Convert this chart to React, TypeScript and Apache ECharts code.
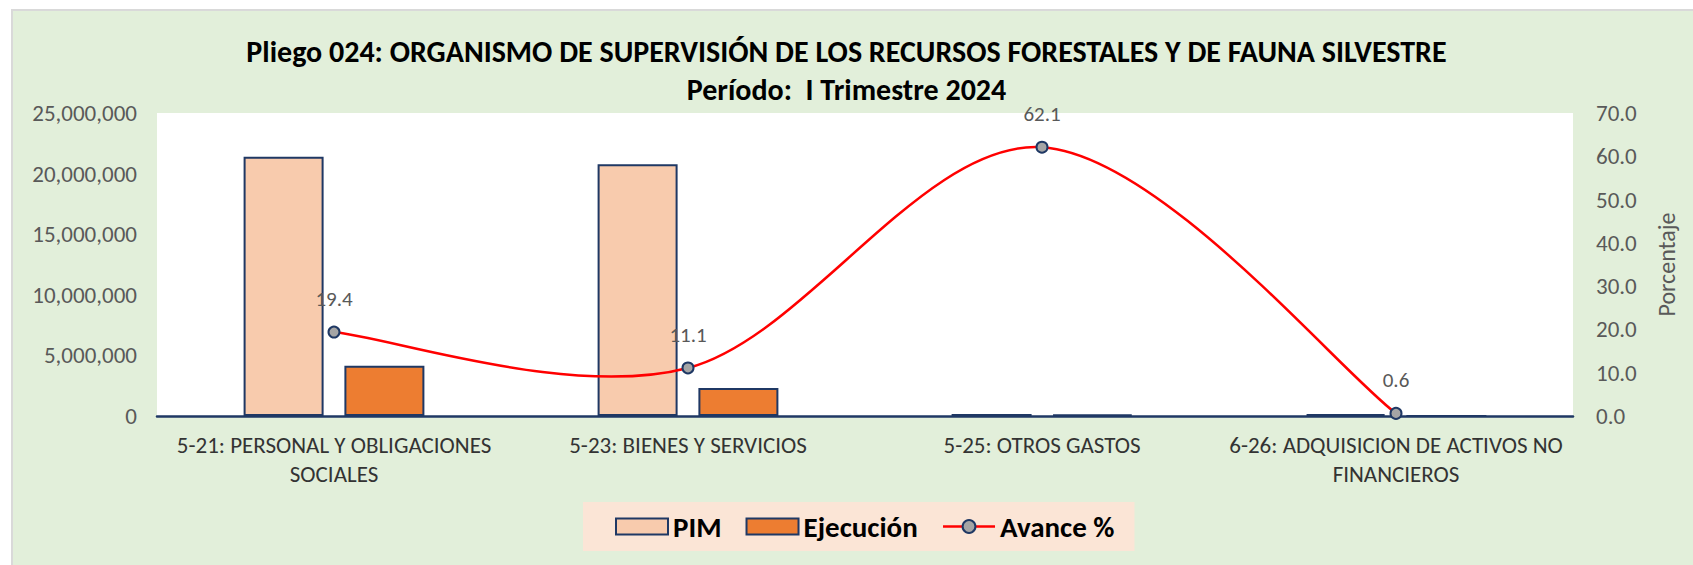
import React, { useEffect, useRef } from "react";
import * as echarts from "echarts";

const categories = [
  "5-21: PERSONAL Y OBLIGACIONES\nSOCIALES",
  "5-23: BIENES Y SERVICIOS",
  "5-25: OTROS GASTOS",
  "6-26: ADQUISICION DE ACTIVOS NO\nFINANCIEROS",
];
const pim = [21400000, 20770000, 170000, 160000];
const ejecucion = [4150000, 2310000, 106000, 1000];
const avance = [19.4, 11.1, 62.1, 0.6];

const titleLine1 = "Pliego 024: ORGANISMO DE SUPERVISIÓN DE LOS RECURSOS FORESTALES Y DE FAUNA SILVESTRE";
const titleLine2 = "Período:  I Trimestre 2024";

const FONT = "Carlito, Calibri, 'Liberation Sans Narrow', 'Open Sans', sans-serif";
const NAVY = "#1F3864";

export default function App() {
  const ref = useRef<HTMLDivElement>(null);
  useEffect(() => {
    document.body.style.margin = "0";
    const chart = echarts.init(ref.current!, null, { renderer: "svg" });
    chart.setOption({
      animation: false,
      backgroundColor: "#FFFFFF",
      textStyle: { fontFamily: FONT },
      graphic: [
        {
          type: "rect",
          z: -10,
          silent: true,
          shape: { x: 12, y: 10, width: 1700, height: 570 },
          style: { fill: "#E2EFDA", stroke: "#D9D9D9", lineWidth: 2 },
        },
      ],
      title: [
        {
          text: titleLine1,
          left: "center",
          top: 31,
          textStyle: { fontFamily: FONT, fontSize: 30, fontWeight: "bold", color: "#000" },
        },
        {
          text: titleLine2,
          left: "center",
          top: 69,
          textStyle: { fontFamily: FONT, fontSize: 30, fontWeight: "bold", color: "#000" },
        },
      ],
      legend: {
        bottom: 14,
        left: 583,
        backgroundColor: "#FBE5D6",
        padding: [10, 20, 10, 32],
        itemWidth: 52,
        itemHeight: 16,
        itemGap: 24,
        textStyle: { fontFamily: FONT, fontSize: 29, fontWeight: "bold", color: "#000" },
        data: [
          { name: "PIM", icon: "rect" },
          { name: "Ejecución", icon: "rect" },
          {
            name: "Avance %",
            lineStyle: { color: "#FF0000", width: 2.5, opacity: 1 },
          },
        ],
      },
      grid: {
        left: 157,
        right: 120,
        top: 113,
        bottom: 149,
        show: true,
        backgroundColor: "#FFFFFF",
        borderWidth: 0,
        containLabel: false,
      },
      xAxis: {
        type: "category",
        data: categories,
        axisLine: { lineStyle: { color: NAVY, width: 2.5 } },
        axisTick: { show: false },
        axisLabel: {
          fontFamily: FONT,
          fontSize: 23,
          color: "#333",
          lineHeight: 29,
          margin: 14,
          interval: 0,
        },
      },
      yAxis: [
        {
          type: "value",
          min: 0,
          max: 25000000,
          interval: 5000000,
          splitLine: { show: false },
          axisLine: { show: false },
          axisTick: { show: false },
          axisLabel: {
            fontFamily: FONT,
            fontSize: 23,
            color: "#595959",
            margin: 20,
            formatter: (v: number) => v.toLocaleString("en-US"),
          },
        },
        {
          type: "value",
          min: 0,
          max: 70,
          interval: 10,
          position: "right",
          name: "Porcentaje",
          nameLocation: "middle",
          nameRotate: 90,
          nameGap: 81,
          nameTextStyle: { fontFamily: FONT, fontSize: 24, color: "#595959" },
          splitLine: { show: false },
          axisLine: { show: false },
          axisTick: { show: false },
          axisLabel: {
            fontFamily: FONT,
            fontSize: 23,
            color: "#595959",
            margin: 23,
            formatter: (v: number) => v.toFixed(1),
          },
        },
      ],
      series: [
        {
          name: "PIM",
          type: "bar",
          data: pim,
          barWidth: 80,
          barGap: "26%",
          itemStyle: { color: "#F8CBAD", borderColor: NAVY, borderWidth: 2 },
        },
        {
          name: "Ejecución",
          type: "bar",
          data: ejecucion,
          barWidth: 80,
          barGap: "26%",
          itemStyle: { color: "#ED7D31", borderColor: NAVY, borderWidth: 2 },
        },
        {
          name: "Avance % curve",
          type: "custom",
          yAxisIndex: 1,
          z: 4,
          silent: true,
          data: avance.map((v, i) => [i, v]),
          renderItem: (params: any, api: any) => {
            if (params.dataIndex !== 0) return null;
            const pts = avance.map((v, i) => api.coord([i, v]));
            const n = pts.length;
            let d = `M ${pts[0][0]} ${pts[0][1]}`;
            for (let i = 0; i < n - 1; i++) {
              const p0 = pts[Math.max(0, i - 1)];
              const p1 = pts[i];
              const p2 = pts[i + 1];
              const p3 = pts[Math.min(n - 1, i + 2)];
              const c1x = p1[0] + (p2[0] - p0[0]) / 6;
              const c1y = p1[1] + (p2[1] - p0[1]) / 6;
              const c2x = p2[0] - (p3[0] - p1[0]) / 6;
              const c2y = p2[1] - (p3[1] - p1[1]) / 6;
              d += ` C ${c1x} ${c1y} ${c2x} ${c2y} ${p2[0]} ${p2[1]}`;
            }
            return {
              type: "path",
              shape: { pathData: d },
              style: { fill: "none", stroke: "#FF0000", lineWidth: 2.5 },
            };
          },
        },
        {
          name: "Avance %",
          type: "line",
          yAxisIndex: 1,
          data: avance,
          symbol: "circle",
          symbolSize: 11,
          z: 5,
          lineStyle: { color: "#FF0000", width: 2.5, opacity: 0 },
          itemStyle: { color: "#A5A5A5", borderColor: NAVY, borderWidth: 2 },
          label: {
            show: true,
            position: "top",
            distance: 16,
            fontFamily: FONT,
            fontSize: 21,
            color: "#595959",
            formatter: (p: any) => Number(p.value).toFixed(1),
          },
        },
      ],
    });
    return () => chart.dispose();
  }, []);
  return <div ref={ref} style={{ width: 1693, height: 565 }} />;
}
